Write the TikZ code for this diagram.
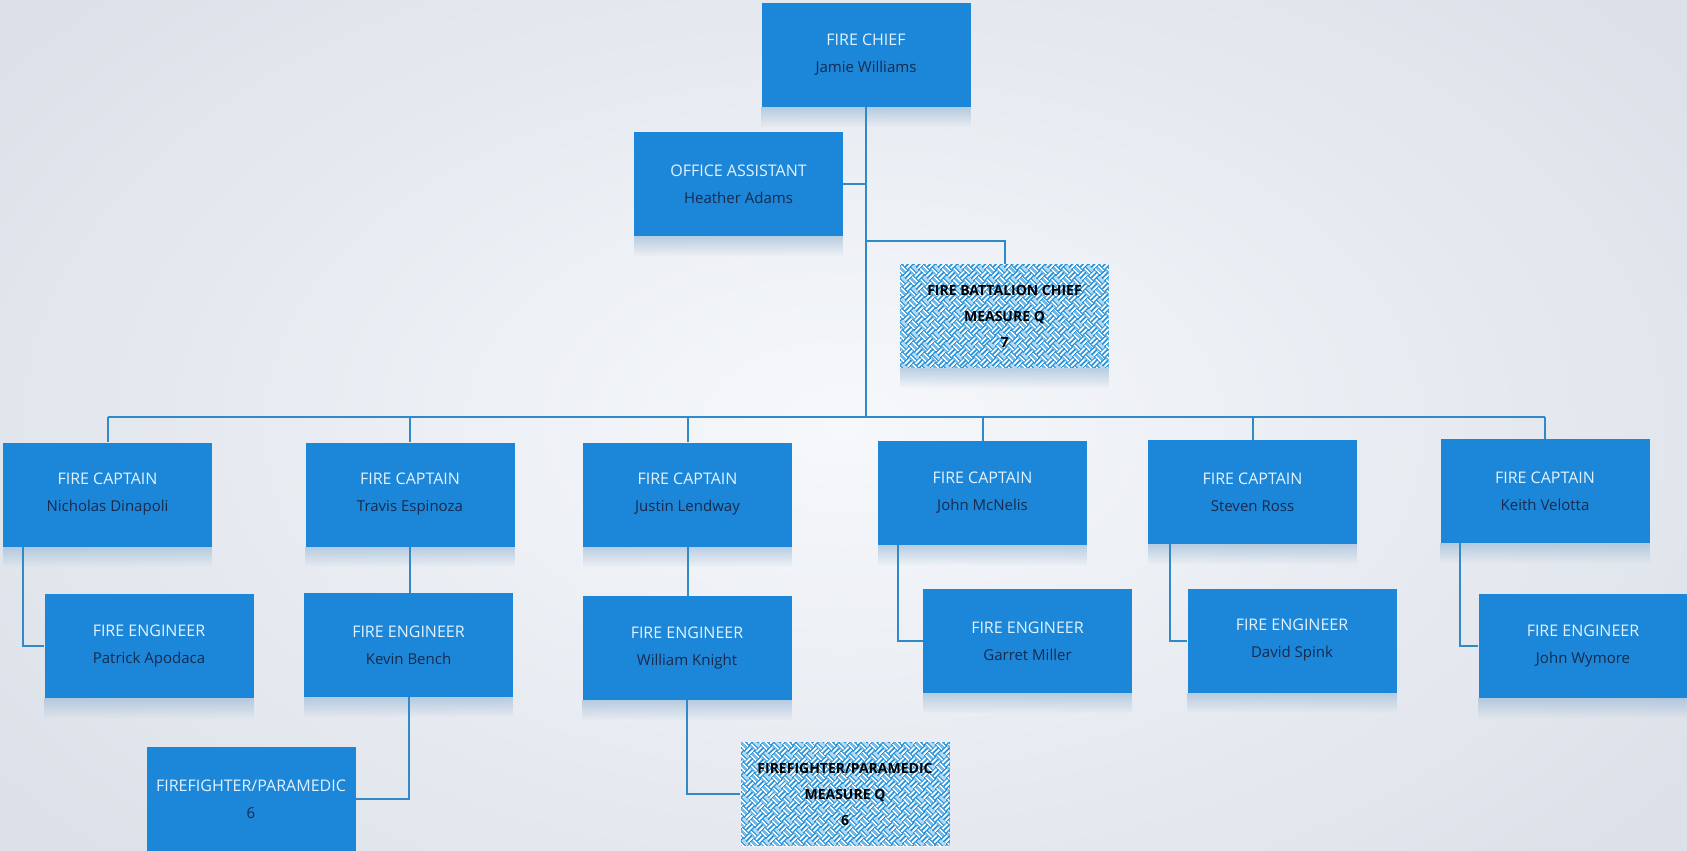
\documentclass[tikz,border=0pt]{standalone}
\usepackage{fontspec}
\setmainfont{Open Sans}
\usetikzlibrary{patterns.meta,fadings}
\definecolor{boxblue}{RGB}{28,135,216}
\definecolor{titlec}{RGB}{228,242,253}
\definecolor{namec}{RGB}{24,42,78}
\definecolor{linec}{RGB}{48,138,200}
\definecolor{bgin}{RGB}{246,248,251}
\definecolor{bgout}{RGB}{220,225,233}
\definecolor{reflc}{RGB}{150,182,212}
\definecolor{patblue}{RGB}{38,148,220}
\tikzdeclarepattern{
  name=weave,
  type=uncolored,
  bounding box={(0pt,0pt) and (8pt,8pt)},
  tile size={(8pt,8pt)},
  tile transformation={rotate=45},
  code={
    \draw[line width=1pt]
      (0pt,1pt) -- (4pt,1pt) (0pt,3pt) -- (4pt,3pt)
      (5pt,0pt) -- (5pt,4pt) (7pt,0pt) -- (7pt,4pt)
      (1pt,4pt) -- (1pt,8pt) (3pt,4pt) -- (3pt,8pt)
      (4pt,5pt) -- (8pt,5pt) (4pt,7pt) -- (8pt,7pt);
  }
}
\tikzfading[name=fadedown, top color=transparent!40, bottom color=transparent!100]
\newcommand{\ttl}[1]{{\fontsize{8}{13.5}\selectfont\color{titlec}#1}}
\newcommand{\nme}[1]{{\fontsize{7.5}{13.5}\selectfont\color{namec}#1}}
\tikzset{
  box/.style={rectangle, fill=boxblue, minimum width=104.5pt, minimum height=52pt,
    inner sep=0pt, align=center, font=\fontsize{8}{13.5}\selectfont},
  pbox/.style={rectangle, fill=patblue, minimum width=104.5pt, minimum height=52pt,
    inner sep=0pt, align=center, font=\fontsize{7}{13}\selectfont\bfseries,
    text=black, postaction={pattern=weave, pattern color=white}},
  conn/.style={draw=linec, line width=1pt}
}
\begin{document}
\begin{tikzpicture}[x=0.5pt,y=-0.5pt]
\useasboundingbox (0,0) rectangle (1687,851);
\clip (0,0) rectangle (1687,851);
\shade[inner color=bgin, outer color=bgout] (-200,-200) rectangle (1887,1051);

% nodes
\node[box] (chief) at (866,55) {\ttl{FIRE CHIEF}\\\nme{Jamie Williams}};
\node[box] (oa) at (738.5,184) {\ttl{OFFICE ASSISTANT}\\\nme{Heather Adams}};
\node[pbox] (bc) at (1004.5,316) {FIRE BATTALION CHIEF\\MEASURE Q\\7};
\node[box] (c1) at (107.5,494.5) {\ttl{FIRE CAPTAIN}\\\nme{Nicholas Dinapoli}};
\node[box] (c2) at (410,494.5) {\ttl{FIRE CAPTAIN}\\\nme{Travis Espinoza}};
\node[box] (c3) at (687.5,494.5) {\ttl{FIRE CAPTAIN}\\\nme{Justin Lendway}};
\node[box] (c4) at (982.5,493) {\ttl{FIRE CAPTAIN}\\\nme{John McNelis}};
\node[box] (c5) at (1252.5,492) {\ttl{FIRE CAPTAIN}\\\nme{Steven Ross}};
\node[box] (c6) at (1545,491) {\ttl{FIRE CAPTAIN}\\\nme{Keith Velotta}};
\node[box] (e1) at (149,646) {\ttl{FIRE ENGINEER}\\\nme{Patrick Apodaca}};
\node[box] (e2) at (408.5,645) {\ttl{FIRE ENGINEER}\\\nme{Kevin Bench}};
\node[box] (e3) at (687,648) {\ttl{FIRE ENGINEER}\\\nme{William Knight}};
\node[box] (e4) at (1027.5,641) {\ttl{FIRE ENGINEER}\\\nme{Garret Miller}};
\node[box] (e5) at (1292,640.5) {\ttl{FIRE ENGINEER}\\\nme{David Spink}};
\node[box] (e6) at (1583,646) {\ttl{FIRE ENGINEER}\\\nme{John Wymore}};
\node[box] (ff1) at (251,799) {\ttl{FIREFIGHTER/PARAMEDIC}\\\nme{6}};
\node[pbox] (ff2) at (845,794) {FIREFIGHTER/PARAMEDIC\\MEASURE Q\\6};

% reflections
\foreach \n in {chief,oa,bc,c1,c2,c3,c4,c5,c6,e1,e2,e3,e4,e5,e6}
  \fill[reflc, path fading=fadedown] (\n.south west) rectangle ([yshift=-10pt]\n.south east);

% connectors
\coordinate (busL) at (107,417);
\coordinate (bcy) at (0,241);
\draw[conn] (chief.south) -- (chief.south |- busL);
\draw[conn] (oa.east) -- (oa.east -| chief.south);
\draw[conn] (chief.south |- bcy) -| (bc.north);
\draw[conn] (c1.north |- busL) -- (c6.north |- busL);
\foreach \c in {c1,c2,c3,c4,c5,c6}
  \draw[conn] (\c.north |- busL) -- (\c.north);
\draw[conn] ([xshift=10pt]c1.south west) |- (e1.west);
\draw[conn] (c2.south) -- (c2.south |- e2.north);
\draw[conn] (e2.south) |- (ff1.east);
\draw[conn] (c3.south) -- (c3.south |- e3.north);
\draw[conn] (e3.south) |- (ff2.west);
\draw[conn] ([xshift=10pt]c4.south west) |- (e4.west);
\draw[conn] ([xshift=11pt]c5.south west) |- (e5.west);
\draw[conn] ([xshift=10pt]c6.south west) |- (e6.west);
\end{tikzpicture}
\end{document}
